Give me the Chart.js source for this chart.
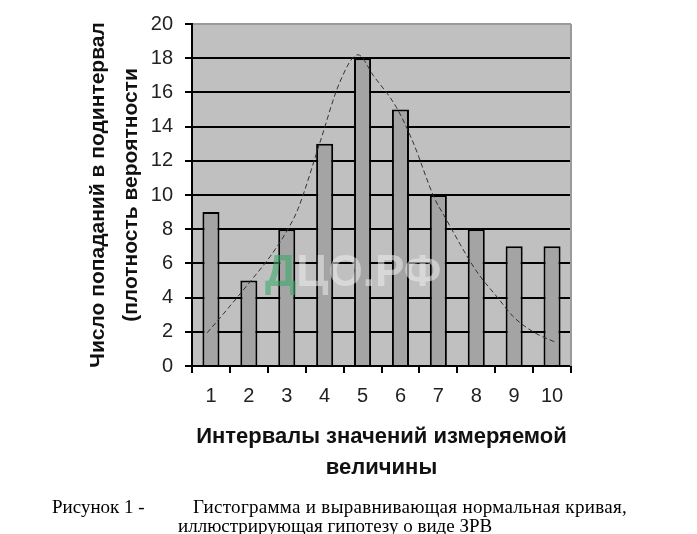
<!DOCTYPE html>
<html><head><meta charset="utf-8">
<script src="https://cdn.jsdelivr.net/npm/chart.js@4"></script>
<style>
html,body{margin:0;padding:0;background:#fff;}
#wrap{position:relative;width:697px;height:534px;overflow:hidden;}
canvas{position:absolute;left:0;top:0;}
.cap{position:absolute;font-family:"Liberation Serif","Times New Roman",serif;font-size:19px;line-height:19px;color:#000;white-space:nowrap;}
</style></head><body>
<div id="wrap"><canvas id="c" width="697" height="534"></canvas>
<div class="cap" style="left:52px;top:497px">Рисунок 1 -</div>
<div class="cap" style="left:193px;top:497px;letter-spacing:0.3px">Гистограмма и выравнивающая нормальная кривая,</div>
<div class="cap" style="left:178px;top:516px">иллюстрирующая гипотезу о виде ЗРВ</div>
</div>
<script>
const categories = ['1','2','3','4','5','6','7','8','9','10'];
const counts = [9,5,8,13,18,15,10,8,7,7];
const curveX = [0.9,1.5,2.08,2.56,3.03,3.3,3.88,4.4,4.88,5.28,5.9,6.33,6.9,7.15,7.99,8.6,8.97,9.5,10.13];
const curveY = [1.94,3.5,5.06,6.4,8.0,9.2,13.1,16.6,18.2,17.0,15.1,13.1,9.8,8.8,5.6,3.9,2.9,2.0,1.35];
const yTitle = ['Число попаданий в подинтервал','(плотность вероятности'];
const xTitle = ['Интервалы значений измеряемой','величины'];

const curvePoints = curveX.map((x,i)=>({x:x,y:curveY[i]}));

const plotBg = {
  id:'plotBg',
  beforeDraw(chart){
    const a=chart.chartArea, ctx=chart.ctx;
    ctx.save();ctx.fillStyle='#c0c0c0';
    ctx.fillRect(a.left,a.top,a.right-a.left,a.bottom-a.top);
    ctx.restore();
  },
  afterDraw(chart){
    const a=chart.chartArea, ctx=chart.ctx;
    ctx.save();ctx.strokeStyle='#9a9a9a';ctx.lineWidth=2;
    ctx.beginPath();ctx.moveTo(a.right,a.top);ctx.lineTo(a.right,a.bottom);ctx.stroke();
    ctx.restore();
  }
};
const watermark = {
  id:'watermark',
  afterDatasetsDraw(chart){
    const ctx=chart.ctx;
    ctx.save();
    ctx.font='bold 44px "Liberation Sans", Arial, sans-serif';
    ctx.textBaseline='alphabetic';
    ctx.fillStyle='rgba(60,170,105,0.6)';
    ctx.fillText('Д',265,286);
    const w=ctx.measureText('Д').width;
    ctx.fillStyle='rgba(235,235,235,0.55)';
    ctx.fillText('ЦО.РФ',265+w,286);
    ctx.restore();
  }
};

new Chart(document.getElementById('c'),{
  type:'bar',
  data:{
    labels:categories,
    datasets:[
      {type:'line',data:curvePoints,xAxisID:'x2',yAxisID:'y',borderColor:'#333',borderWidth:1,borderDash:[5,3],pointRadius:0,fill:false,cubicInterpolationMode:'monotone',order:0},
      {type:'bar',data:counts,xAxisID:'x',yAxisID:'y',grouped:false,backgroundColor:'#a4a4a4',borderColor:'#000',borderWidth:2,barPercentage:0.45,categoryPercentage:1,order:1}
    ]
  },
  options:{
    responsive:false,animation:false,
    layout:{padding:{left:81.5,top:24,right:126,bottom:50.5}},
    plugins:{legend:{display:false},tooltip:{enabled:false}},
    scales:{
      x:{
        type:'category',offset:true,
        afterFit(s){s.height=117.5;},
        grid:{offset:true,drawOnChartArea:false,drawTicks:true,tickLength:7,color:'#000',tickColor:'#000',lineWidth:2},
        border:{color:'#000',width:2},
        ticks:{color:'#222',padding:11,font:{family:'"Liberation Sans", Arial, sans-serif',size:20}},
        title:{display:true,text:xTitle,color:'#111',padding:0,font:{family:'"Liberation Sans", Arial, sans-serif',size:22,weight:'bold',lineHeight:1.41}}
      },
      x2:{type:'linear',display:false,offset:false,min:0.5,max:10.5},
      y:{
        min:0,max:20,
        afterFit(s){s.width=110.5;},
        ticks:{stepSize:2,color:'#222',padding:12,font:{family:'"Liberation Sans", Arial, sans-serif',size:20}},
        grid:{color:(c)=>c.tick && c.tick.value===20?'#9a9a9a':'#000',tickColor:'#000',lineWidth:2,tickLength:7},
        border:{color:'#000',width:2},
        title:{display:true,text:yTitle,color:'#111',padding:0,font:{family:'"Liberation Sans", Arial, sans-serif',size:21,weight:'bold',lineHeight:1.571}}
      }
    }
  },
  plugins:[plotBg,watermark]
});
</script>
</body></html>
